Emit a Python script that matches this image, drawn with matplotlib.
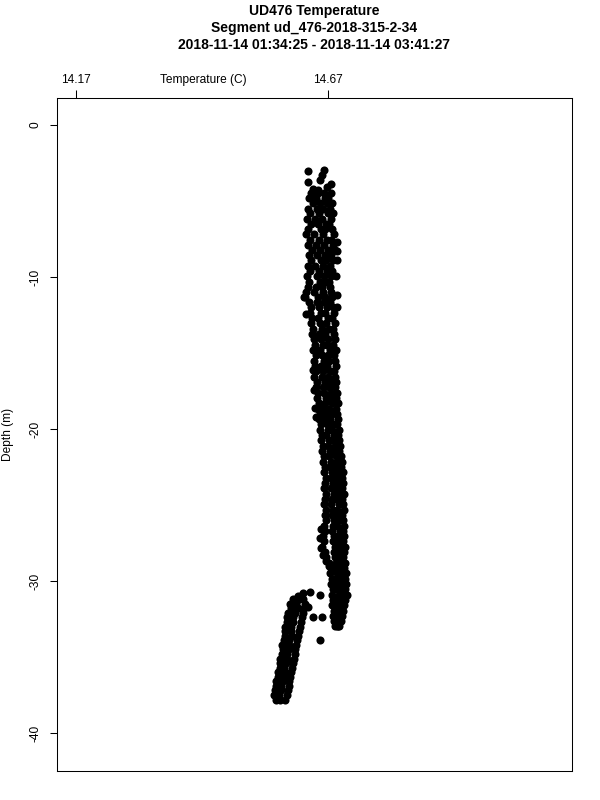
import numpy as np
import matplotlib.pyplot as plt

plt.rcParams["font.family"] = ["Liberation Sans", "DejaVu Sans"]
plt.rcParams["axes.unicode_minus"] = False

# main column of the profile: depth rows (m) and four temperature readings (C) per row
band_depth = [-4.45, -4.80, -5.15, -5.50, -5.80, -6.15, -6.50, -6.85, -7.20, -7.55,
              -7.90, -8.20, -8.55, -8.90, -9.25, -9.60, -9.95, -10.30, -10.65, -11.00,
              -11.30, -11.65, -12.00, -12.35, -12.70, -13.05, -13.40, -13.75, -14.10, -14.45,
              -14.80, -15.15, -15.50, -15.85, -16.20, -16.55, -16.90, -17.25, -17.60, -17.95,
              -18.30, -18.65, -19.00, -19.35, -19.70, -20.05, -20.40, -20.75, -21.10, -21.45,
              -21.80, -22.15, -22.50, -22.85, -23.20, -23.55, -23.90, -24.25, -24.60, -24.95,
              -25.30, -25.65, -26.00, -26.35, -26.70, -27.05, -27.40, -27.75, -28.10, -28.45,
              -28.80, -29.15, -29.50, -29.85, -30.20, -30.55, -30.90, -31.25, -31.60, -31.95,
              -32.30, -32.65, -32.95]
band_t1 = [14.636, 14.632, 14.640, 14.630, 14.634, 14.628, 14.636, 14.630, 14.626, 14.634,
           14.630, 14.638, 14.632, 14.636, 14.630, 14.634, 14.628, 14.632, 14.630, 14.626,
           14.622, 14.632, 14.636, 14.634, 14.638, 14.636, 14.640, 14.638, 14.642, 14.644,
           14.640, 14.646, 14.642, 14.644, 14.646, 14.642, 14.648, 14.646, 14.650, 14.648,
           14.652, 14.650, 14.654, 14.652, 14.656, 14.654, 14.658, 14.656, 14.660, 14.658,
           14.662, 14.660, 14.664, 14.662, 14.666, 14.664, 14.662, 14.666, 14.664, 14.662,
           14.666, 14.664, 14.666, 14.662, 14.664, 14.660, 14.662, 14.658, 14.664, 14.666,
           14.672, 14.676, 14.674, 14.678, 14.676, 14.680, 14.678, 14.680, 14.678, 14.682,
           14.680, 14.682, 14.684]
band_t2 = [14.650, 14.646, 14.654, 14.648, 14.652, 14.644, 14.650, 14.656, 14.642, 14.652,
           14.646, 14.654, 14.648, 14.656, 14.644, 14.652, 14.648, 14.654, 14.646, 14.642,
           14.650, 14.648, 14.652, 14.656, 14.650, 14.654, 14.658, 14.652, 14.656, 14.660,
           14.654, 14.658, 14.662, 14.656, 14.660, 14.658, 14.664, 14.660, 14.662, 14.666,
           14.664, 14.660, 14.668, 14.664, 14.668, 14.670, 14.666, 14.672, 14.670, 14.674,
           14.672, 14.676, 14.674, 14.678, 14.676, 14.680, 14.676, 14.682, 14.678, 14.676,
           14.680, 14.678, 14.682, 14.680, 14.678, 14.682, 14.680, 14.684, 14.682, 14.684,
           14.686, 14.684, 14.688, 14.686, 14.690, 14.688, 14.692, 14.690, 14.688, 14.692,
           14.688, 14.690, 14.688]
band_t3 = [14.662, 14.664, 14.668, 14.660, 14.670, 14.658, 14.666, 14.664, 14.660, 14.668,
           14.662, 14.670, 14.664, 14.666, 14.660, 14.668, 14.662, 14.666, 14.658, 14.660,
           14.664, 14.662, 14.668, 14.664, 14.670, 14.666, 14.672, 14.664, 14.670, 14.668,
           14.674, 14.670, 14.672, 14.668, 14.674, 14.670, 14.676, 14.672, 14.676, 14.674,
           14.678, 14.672, 14.678, 14.674, 14.680, 14.678, 14.682, 14.680, 14.684, 14.682,
           14.686, 14.688, 14.684, 14.690, 14.686, 14.692, 14.688, 14.690, 14.686, 14.692,
           14.688, 14.690, 14.692, 14.688, 14.694, 14.690, 14.692, 14.694, 14.690, 14.694,
           14.692, 14.696, 14.694, 14.698, 14.696, 14.700, 14.698, 14.696, 14.700, 14.698,
           14.694, 14.696, 14.692]
band_t4 = [14.676, 14.670, 14.678, 14.674, 14.680, 14.676, 14.672, 14.678, 14.682, 14.676,
           14.680, 14.684, 14.676, 14.680, 14.674, 14.678, 14.676, 14.672, 14.674, 14.676,
           14.678, 14.674, 14.680, 14.682, 14.678, 14.684, 14.680, 14.682, 14.684, 14.680,
           14.686, 14.682, 14.684, 14.686, 14.682, 14.684, 14.686, 14.684, 14.688, 14.686,
           14.690, 14.686, 14.688, 14.690, 14.688, 14.692, 14.690, 14.692, 14.694, 14.692,
           14.696, 14.698, 14.696, 14.700, 14.698, 14.700, 14.698, 14.702, 14.698, 14.700,
           14.702, 14.698, 14.700, 14.702, 14.700, 14.702, 14.700, 14.704, 14.702, 14.700,
           14.704, 14.702, 14.706, 14.704, 14.706, 14.704, 14.708, 14.704, 14.702, 14.700,
           14.698, 14.694, 14.690]

# deeper, cooler lobe
lobe_depth = [-31.2, -31.5, -31.8, -32.1, -32.4, -32.7, -33.0, -33.3, -33.6, -33.9,
              -34.2, -34.5, -34.8, -35.1, -35.4, -35.7, -36.0, -36.3, -36.6, -36.9,
              -37.2, -37.5, -37.8]
lobe_t1 = [14.600, 14.594, 14.596, 14.590, 14.588, 14.588, 14.584, 14.584, 14.584, 14.582,
           14.578, 14.580, 14.578, 14.574, 14.574, 14.574, 14.570, 14.570, 14.566, 14.566,
           14.564, 14.562, 14.566]
lobe_t2 = [14.612, 14.606, 14.610, 14.604, 14.600, 14.600, 14.596, 14.596, 14.598, 14.592,
           14.592, 14.592, 14.588, 14.588, 14.586, 14.582, 14.584, 14.580, 14.580, 14.576,
           14.576, 14.572, 14.574]
lobe_t3 = [14.620, 14.624, 14.622, 14.620, 14.618, 14.616, 14.614, 14.612, 14.610, 14.608,
           14.606, 14.604, 14.604, 14.602, 14.600, 14.598, 14.596, 14.594, 14.592, 14.592,
           14.590, 14.588, 14.584]

# scattered readings away from the main column
extra_depth = [-3.05, -2.95, -3.30, -3.75, -3.60, -3.85, -4.25, -4.10, -4.20,
               -7.70, -8.30, -8.90, -9.90, -11.20, -12.00, -11.30, -12.40,
               -16.10, -17.40, -18.60, -19.20,
               -26.60, -27.20, -27.80, -28.30, -28.70, -29.00,
               -30.80, -30.70, -30.90, -31.70, -32.40, -32.40, -33.90, -31.00, -31.40]
extra_t = [14.630, 14.662, 14.658, 14.630, 14.654, 14.676, 14.650, 14.668, 14.640,
           14.688, 14.688, 14.688, 14.686, 14.688, 14.688, 14.624, 14.626,
           14.640, 14.642, 14.644, 14.646,
           14.656, 14.654, 14.656, 14.660, 14.666, 14.672,
           14.620, 14.634, 14.654, 14.630, 14.640, 14.658, 14.654, 14.610, 14.606]

depth = np.concatenate([np.tile(band_depth, 4), np.tile(lobe_depth, 3), extra_depth])
temp = np.concatenate([band_t1, band_t2, band_t3, band_t4,
                       lobe_t1, lobe_t2, lobe_t3, extra_t])

fig = plt.figure(figsize=(6, 8), dpi=100)
ax = fig.add_axes([57 / 600, 29 / 800, 515 / 600, 673 / 800])
ax.scatter(temp, depth, s=34, c="black", linewidths=0)

ax.set_xlim(14.132, 15.154)
ax.set_ylim(-42.5, 1.78)
for sp in ax.spines.values():
    sp.set_linewidth(0.75)

ax.xaxis.tick_top()
ax.set_xticks([14.17, 14.67])
ax.set_xticklabels(["14.17", "14.67"])
ax.tick_params(axis="x", length=5.8, width=0.75, pad=3, labelsize=8.6)

ax.set_yticks([0, -10, -20, -30, -40])
ax.set_yticklabels(["0", "-10", "-20", "-30", "-40"])
ax.tick_params(axis="y", length=5, width=0.75, pad=6.5, labelsize=8.6, labelrotation=90)
for lab in ax.get_yticklabels():
    lab.set_va("center")
ax.set_ylabel("Depth (m)", fontsize=8.6, labelpad=11)

fig.text(203 / 600, 1 - 80 / 800, "Temperature (C)", ha="center", va="center", fontsize=8.6)

xc = (57 + 572) / 2 / 600
fig.text(xc, 1 - 11 / 800, "UD476 Temperature", ha="center", va="center",
         fontsize=10, fontweight="bold")
fig.text(xc, 1 - 28 / 800, "Segment ud_476-2018-315-2-34", ha="center", va="center",
         fontsize=10, fontweight="bold")
fig.text(xc, 1 - 45 / 800, "2018-11-14 01:34:25 - 2018-11-14 03:41:27", ha="center",
         va="center", fontsize=10, fontweight="bold")

fig.savefig("out.png", dpi=100)
